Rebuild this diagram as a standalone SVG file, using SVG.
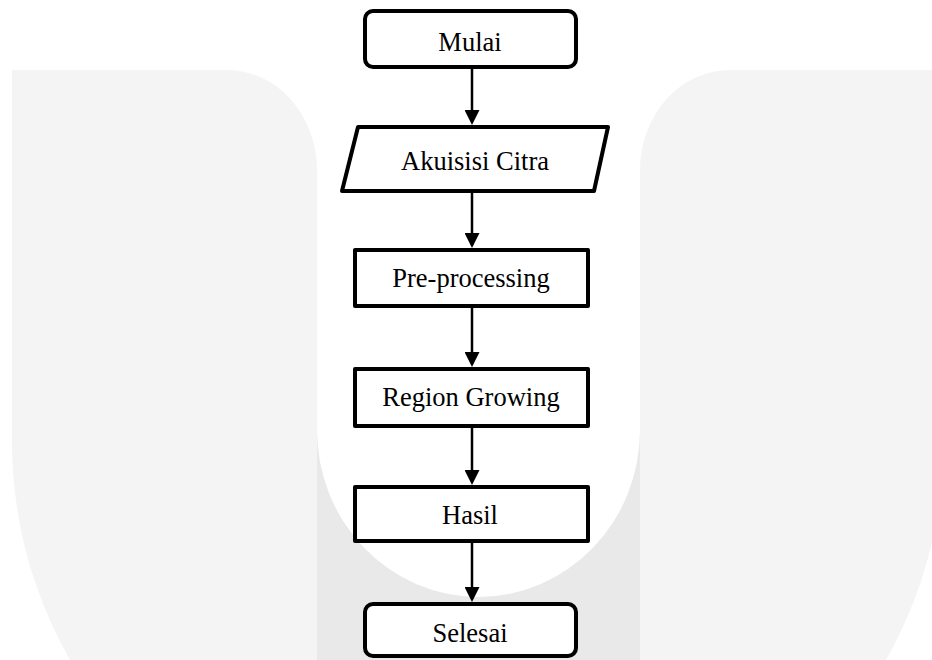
<svg xmlns="http://www.w3.org/2000/svg" width="932" height="660" viewBox="0 0 932 660">
  <style>
    .node { fill: #ffffff; stroke: #000000; stroke-width: 4; stroke-linejoin: round; }
    .label { font-family: "Liberation Serif", "Times New Roman", serif; font-size: 26.5px; fill: #000000; text-anchor: middle; }
    .conn { stroke: #000000; stroke-width: 2.5; fill: none; marker-end: url(#arrow); }
  </style>
  <defs>
    <marker id="arrow" markerUnits="userSpaceOnUse" markerWidth="15" markerHeight="15" refX="12" refY="7.5" orient="auto">
      <path d="M0,0 L15,7.5 L0,15 Z" fill="#000000"/>
    </marker>
  </defs>
  <rect x="0" y="0" width="932" height="660" fill="#ffffff"/>
  <g id="watermark">
    <path d="M12,70 H227 A90,100 0 0 1 317,170 V660 H70 A466,455 0 0 1 12,440 Z" fill="#f4f4f4"/>
    <path d="M932,70 H730 A90,100 0 0 0 640,170 V660 H886 A466,455 0 0 0 932,542 Z" fill="#f4f4f4"/>
    <rect x="317" y="300" width="323" height="360" fill="#e9e9e9"/>
    <path d="M317,0 V430 A161.5,167 0 0 0 640,430 V0 Z" fill="#ffffff"/>
  </g>
  <g id="connectors">
    <line class="conn" x1="472" y1="69" x2="472" y2="122"/>
    <line class="conn" x1="472" y1="193" x2="472" y2="245"/>
    <line class="conn" x1="472" y1="308" x2="472" y2="364"/>
    <line class="conn" x1="472" y1="428" x2="472" y2="482"/>
    <line class="conn" x1="472" y1="543" x2="472" y2="599"/>
  </g>
  <g id="mulai">
    <rect class="node" x="365" y="11" width="211" height="56" rx="8" ry="8"/>
    <text class="label" x="470" y="51">Mulai</text>
  </g>
  <g id="akuisisi">
    <polygon class="node" points="358,127 608,127 594,191 342,191" stroke-linejoin="miter"/>
    <text class="label" x="475" y="170">Akuisisi Citra</text>
  </g>
  <g id="preprocessing">
    <rect class="node" x="355" y="250" width="233" height="56"/>
    <text class="label" x="471" y="287">Pre-processing</text>
  </g>
  <g id="region-growing">
    <rect class="node" x="355" y="369" width="233" height="57"/>
    <text class="label" x="471" y="406">Region Growing</text>
  </g>
  <g id="hasil">
    <rect class="node" x="355" y="487" width="233" height="54"/>
    <text class="label" x="470" y="524">Hasil</text>
  </g>
  <g id="selesai">
    <rect class="node" x="365" y="604" width="211" height="52" rx="8" ry="8"/>
    <text class="label" x="470" y="642">Selesai</text>
  </g>
</svg>
